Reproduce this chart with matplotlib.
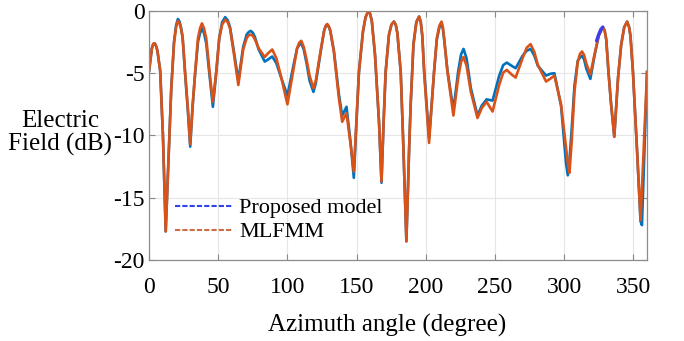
import matplotlib
matplotlib.use("Agg")
from matplotlib import pyplot as plt
from matplotlib.lines import Line2D

plt.rcParams['font.family'] = ['Liberation Serif', 'DejaVu Serif']
plt.rcParams['axes.unicode_minus'] = False

# azimuth samples (degree), one line per lobe
angle = [0, 2, 3, 4, 5, 6, 8, 10, 12,
         14, 16, 18, 19.5, 20.8, 22, 23, 24.2, 26, 28, 29.7,
         31.5, 33.3, 35.3, 36.8, 38.2, 39.7, 41.3, 43.7, 46.1,
         48.5, 50.7, 52.8, 55, 56.8, 58.5, 61.5, 64.5,
         68, 70.5, 72, 73.5, 75, 76.5, 79.2, 83.6, 86, 89, 92, 95, 100,
         104.5, 107, 108.5, 110, 111.8, 114, 116, 118.8,
         120.5, 124, 126.5, 127.6, 128.7, 129.8, 131, 133.6, 137.2, 139.6, 142.7, 145.7, 148,
         150, 151.7, 154.6, 156.5, 158.5, 159.8, 161, 163.3, 166.2, 168,
         169.5, 171, 173.4, 175.2, 177, 178.3, 179.5, 181.9, 183.6, 186,
         188, 189.1, 191.1, 193.2, 195.2, 196.4, 197.5, 198.8, 200.8, 202.4,
         204, 206, 208, 209.8, 211.4, 212.4, 213.3, 215.7, 220,
         223.4, 225.5, 227.3, 229.5, 232.6, 237.4,
         240.5, 244, 248.3, 253.1, 256, 258.6, 262, 265,
         270, 273, 275.8, 278.5, 281, 287, 290, 293, 297.8, 301.4, 302.7, 303.9,
         305.5, 307.5, 309.9, 311.5, 313, 314.5, 316, 319,
         322, 325, 328, 329.3, 330.5, 332.1, 334, 336.3,
         339, 341.3, 343.5, 345.6, 347, 348, 349.8, 352.9, 355.3, 356.3, 358.2, 360]

mlfmm = [-4.8, -3.0, -2.65, -2.6, -2.8, -3.2, -4.8, -10.0, -17.7,
         -12.0, -6.3, -2.6, -1.3, -0.8, -1.0, -1.4, -2.1, -4.9, -7.8, -10.7,
         -7.5, -4.9, -2.2, -1.4, -1.0, -1.4, -2.2, -4.9, -7.3,
         -4.9, -2.2, -1.1, -0.7, -0.9, -1.4, -3.6, -5.95,
         -3.1, -2.2, -1.95, -1.9, -2.0, -2.3, -3.0, -3.7, -3.4, -3.1, -3.8, -5.1, -7.5,
         -4.6, -3.0, -2.55, -2.4, -2.9, -4.0, -5.2, -6.2,
         -5.6, -3.2, -1.6, -1.2, -1.05, -1.2, -1.6, -3.3, -7.0, -8.9, -8.2, -10.75, -12.9,
         -8.5, -4.9, -1.66, -0.5, 0.0, -0.25, -0.8, -3.5, -8.9, -13.7,
         -9.0, -4.9, -1.9, -1.1, -0.86, -1.1, -1.8, -4.9, -10.2, -18.5,
         -11.0, -7.5, -2.7, -0.9, -0.45, -0.9, -2.0, -4.9, -8.0, -10.6,
         -8.0, -4.9, -2.2, -1.2, -0.86, -1.3, -2.2, -4.9, -8.4,
         -5.4, -4.1, -3.7, -4.4, -6.5, -8.6,
         -7.8, -7.3, -8.08, -5.94, -4.95, -4.74, -5.1, -5.35,
         -3.8, -2.95, -2.67, -3.3, -4.33, -5.67, -5.45, -5.19, -7.5, -11.0, -12.2, -13.0,
         -10.5, -6.5, -4.07, -3.45, -3.26, -3.55, -4.2, -5.1,
         -3.5, -2.0, -1.3, -1.55, -2.3, -4.9, -7.5, -10.1,
         -5.4, -2.7, -1.3, -0.86, -1.3, -2.0, -4.9, -11.5, -16.8, -14.3, -9.6, -4.9]

proposed = [-4.8, -3.0, -2.65, -2.6, -2.8, -3.2, -4.8, -10.0, -17.7,
            -12.0, -6.2, -2.5, -1.15, -0.65, -0.85, -1.3, -2.1, -5.0, -8.0, -10.9,
            -7.6, -5.0, -2.5, -1.8, -1.4, -1.8, -2.6, -5.2, -7.7,
            -5.0, -2.2, -0.9, -0.5, -0.75, -1.3, -3.4, -5.6,
            -2.9, -1.9, -1.7, -1.6, -1.75, -2.1, -3.1, -4.07, -3.9, -3.66, -4.2, -5.2, -6.8,
            -4.3, -3.0, -2.75, -2.6, -3.1, -4.3, -5.6, -6.5,
            -5.8, -3.3, -1.6, -1.25, -1.1, -1.25, -1.6, -3.2, -6.7, -8.4, -7.7, -10.6, -13.4,
            -8.7, -4.9, -1.66, -0.5, 0.0, -0.25, -0.8, -3.5, -8.9, -13.8,
            -9.0, -4.9, -1.9, -1.1, -0.86, -1.1, -1.8, -4.9, -10.2, -18.5,
            -11.0, -7.5, -2.7, -0.9, -0.45, -0.9, -2.0, -4.7, -7.8, -10.2,
            -7.9, -4.9, -2.3, -1.35, -1.05, -1.45, -2.3, -4.8, -7.95,
            -4.9, -3.5, -3.05, -3.8, -6.2, -8.4,
            -7.6, -7.1, -7.2, -5.2, -4.35, -4.15, -4.4, -4.6,
            -3.6, -3.2, -3.05, -3.6, -4.4, -5.19, -5.05, -5.0, -7.6, -12.2, -13.2, -12.0,
            -9.5, -6.0, -4.0, -3.75, -3.6, -3.9, -4.6, -5.46,
            -3.6, -2.0, -1.3, -1.55, -2.3, -4.9, -7.5, -10.1,
            -5.4, -2.7, -1.3, -0.86, -1.3, -2.0, -4.9, -11.5, -16.9, -17.2, -11.0, -4.9]

# short piece of the proposed model drawn in a brighter blue
piece_angle = [323.5, 325, 326.5, 328]
piece_db = [-2.4, -1.9, -1.5, -1.3]

x_ticks = [0, 50, 100, 150, 200, 250, 300, 350]
y_ticks = [0, -5, -10, -15, -20]

fig = plt.figure(figsize=(6.84, 3.41), dpi=100)
ax = fig.add_axes([0.218, 0.2375, 0.728, 0.7305])

ax.plot(angle, proposed, color='#0072BD', lw=1.9)
ax.plot(angle, mlfmm, color='#D95319', lw=1.9)
ax.plot(piece_angle, piece_db, color='#3d3df0', lw=2.4, solid_capstyle='round')

ax.set_xlim(0, 360)
ax.set_ylim(-20, 0)
ax.set_xticks(x_ticks)
ax.set_yticks(y_ticks)
ax.grid(True, color='#e6e6e6', lw=0.8)
ax.set_axisbelow(True)
ax.tick_params(direction='in', length=4, color='#888888', top=True, right=True, labelsize=17)
ax.tick_params(axis='x', pad=12)
ax.tick_params(axis='y', pad=3)
for spine in ax.spines.values():
    spine.set_color('#8c8c8c')
    spine.set_linewidth(0.9)

ax.set_xlabel('Azimuth angle (degree)', fontsize=18, va='center')
ax.xaxis.set_label_coords(0.478, -0.261)
ax.set_ylabel('Electric\nField (dB)', fontsize=18, rotation=0, ha='center', va='center',
              multialignment='center', linespacing=1.1)
ax.yaxis.set_label_coords(-0.178, 0.51)

handles = [Line2D([], [], color='#3344ee', lw=1.5, linestyle=(0, (2.5, 1))),
           Line2D([], [], color='#cc6f44', lw=1.5, linestyle=(0, (2.5, 1)))]
ax.legend(handles, ['Proposed model', 'MLFMM'], loc='center left', bbox_to_anchor=(0.052, 0.16),
          frameon=False, fontsize=16, handlelength=2.6, handletextpad=0.3, labelspacing=0.15,
          borderpad=0, borderaxespad=0)

fig.savefig('out.png', dpi=100)
